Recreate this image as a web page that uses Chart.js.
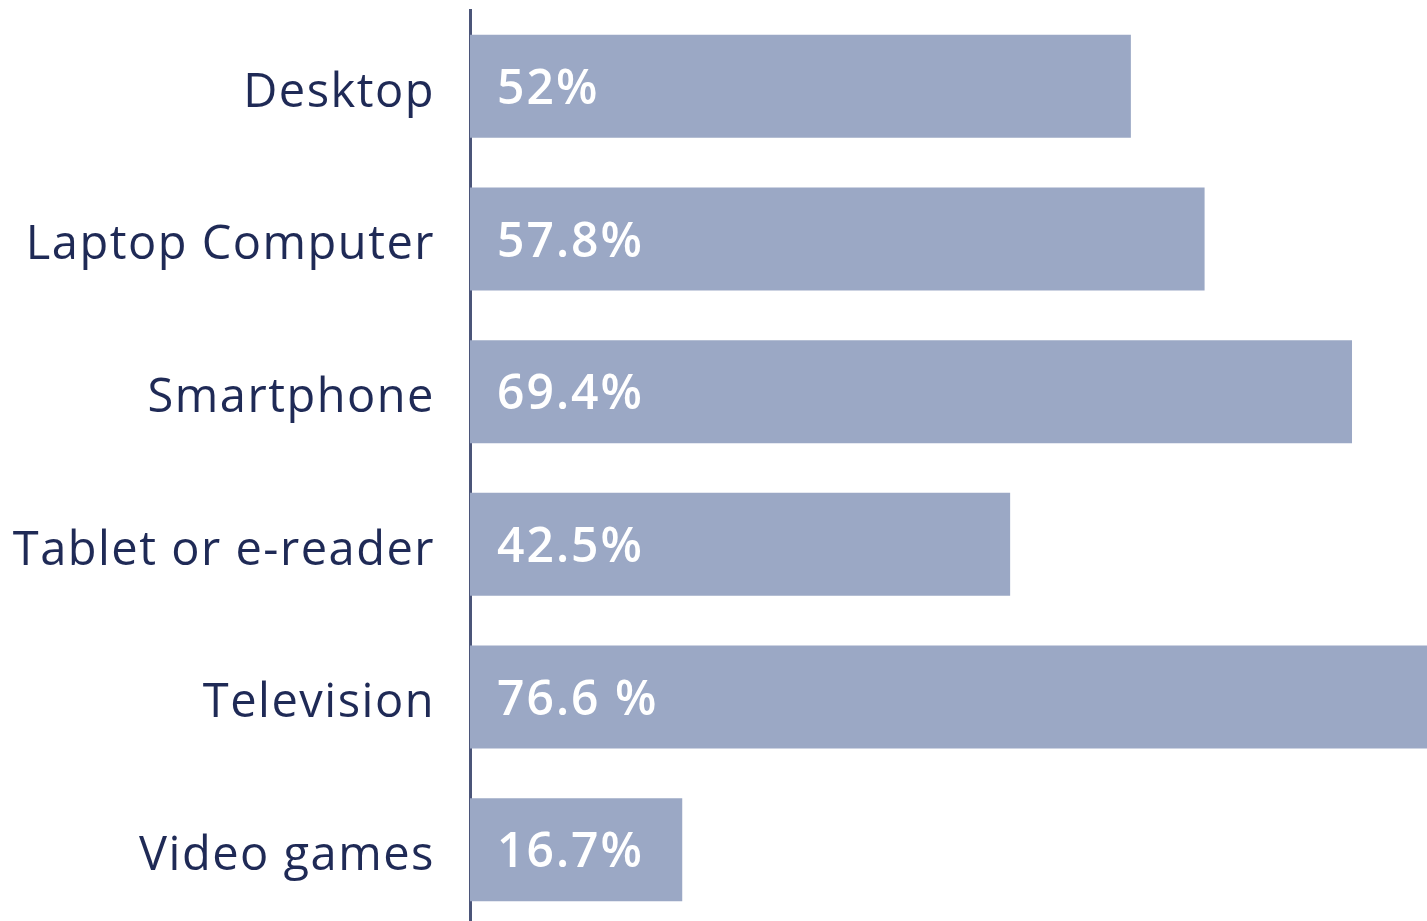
<!DOCTYPE html>
<html>
<head>
<meta charset="utf-8">
<title>Devices</title>
<script src="https://cdn.jsdelivr.net/npm/chart.js@4/dist/chart.umd.min.js"></script>
<style>
    html, body { margin: 0; padding: 0; background: #ffffff; overflow: hidden; }
    #div_chart { width: 1427px; height: 926px; }
</style>
</head>
<body>
<div id="div_chart"><canvas id="chart" width="1427" height="926"></canvas></div>
<script>
const devices = ["Desktop", "Laptop Computer", "Smartphone", "Tablet or e-reader", "Television", "Video games"];
const shares = [52, 57.8, 69.4, 42.5, 76.6, 16.7];
const shareLabels = ["52%", "57.8%", "69.4%", "42.5%", "76.6 %", "16.7%"];

const barColor = "#9ba8c5";
const textColor = "#1f2a56";
const axisColor = "#4b5579";

// slightly wider tracking for the category labels
const tracking = {
    id: "tracking",
    beforeDraw(chart) {
        chart.ctx.letterSpacing = "1.5px";
    },
    afterDraw(chart) {
        chart.ctx.letterSpacing = "0px";
    }
};

// white value text inside each bar, near its base
const valueLabels = {
    id: "valueLabels",
    afterDatasetsDraw(chart) {
        const { ctx } = chart;
        const meta = chart.getDatasetMeta(0);
        ctx.save();
        ctx.letterSpacing = "2px";
        ctx.fillStyle = "#ffffff";
        ctx.font = "600 48px 'Open Sans', sans-serif";
        ctx.textAlign = "left";
        ctx.textBaseline = "middle";
        meta.data.forEach((bar, i) => {
            ctx.fillText(shareLabels[i], bar.base + 27, bar.y + 4);
        });
        ctx.restore();
    }
};

const config = {
    type: "bar",
    data: {
        labels: devices,
        datasets: [
            {
                data: shares,
                backgroundColor: barColor,
                borderWidth: 0,
                categoryPercentage: 1,
                barPercentage: 0.675,
            },
        ],
    },
    options: {
        indexAxis: "y",
        responsive: false,
        maintainAspectRatio: false,
        animation: false,
        layout: { padding: { top: 10, left: 0, right: 0, bottom: 0 } },
        plugins: {
            legend: { display: false },
            tooltip: { enabled: false },
        },
        scales: {
            x: {
                display: false,
                min: 0,
                max: 75.3,
            },
            y: {
                grid: { display: false, drawTicks: false },
                border: { display: true, color: axisColor, width: 3 },
                ticks: {
                    color: textColor,
                    padding: 35,
                    labelOffset: 7,
                    font: { family: "'Open Sans', sans-serif", size: 47, weight: 500 },
                },
                afterFit(scale) {
                    scale.width = 470;
                    // keep the plot running the full canvas height
                    scale.paddingTop = 0;
                    scale.paddingBottom = 0;
                },
            },
        },
    },
    plugins: [tracking, valueLabels],
};

new Chart(document.getElementById("chart"), config);
</script>
</body>
</html>
